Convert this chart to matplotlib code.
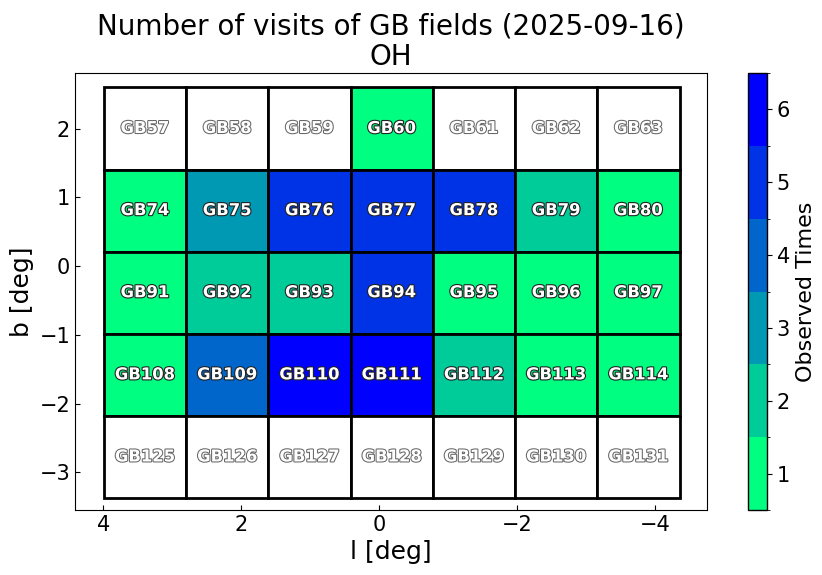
import matplotlib
matplotlib.use("Agg")
import matplotlib.pyplot as plt
import matplotlib.patheffects as pe
from matplotlib.patches import Rectangle
from matplotlib.colors import BoundaryNorm, ListedColormap
import numpy as np

# Field grid: rows top to bottom
field_ids = [
    [57, 58, 59, 60, 61, 62, 63],
    [74, 75, 76, 77, 78, 79, 80],
    [91, 92, 93, 94, 95, 96, 97],
    [108, 109, 110, 111, 112, 113, 114],
    [125, 126, 127, 128, 129, 130, 131],
]
visits = [
    [0, 0, 0, 1, 0, 0, 0],
    [1, 3, 5, 5, 5, 2, 1],
    [1, 2, 2, 5, 1, 1, 1],
    [1, 4, 6, 6, 2, 1, 1],
    [0, 0, 0, 0, 0, 0, 0],
]
l_centers = [3.394, 2.201, 1.008, -0.185, -1.378, -2.571, -3.764]
b_centers = [2.0025, 0.8075, -0.3875, -1.5825, -2.7775]
cell_w = 1.193
cell_h = 1.195

fig = plt.figure(figsize=(8.22, 5.75), dpi=100)
ax = fig.add_axes([0.0912, 0.113, 0.769, 0.760])
cax = fig.add_axes([0.910, 0.113, 0.023, 0.760])

base = plt.get_cmap("winter_r")
cmap = ListedColormap([base(x) for x in np.linspace(0, 1, 6)])
bounds = np.arange(0.5, 7.0, 1.0)
norm = BoundaryNorm(bounds, cmap.N)

for r, b in enumerate(b_centers):
    for c, l in enumerate(l_centers):
        v = visits[r][c]
        face = "white" if v == 0 else cmap(norm(v))
        ax.add_patch(Rectangle((l - cell_w / 2, b - cell_h / 2), cell_w, cell_h,
                               facecolor=face, edgecolor="black", linewidth=2, zorder=2))
        stroke = "#222222" if v > 0 else "#666666"
        ax.text(l, b, f"GB{field_ids[r][c]}", ha="center", va="center",
                fontsize=11.8, fontweight="bold", color="white", zorder=3,
                path_effects=[pe.withStroke(linewidth=1.6 if v > 0 else 1.5, foreground=stroke)])

ax.set_xlim(4.41, -4.76)
ax.set_ylim(-3.55, 2.81)
ax.set_xticks([4, 2, 0, -2, -4])
ax.set_xticklabels(["4", "2", "0", "\u22122", "\u22124"])
ax.set_yticks([2, 1, 0, -1, -2, -3])
ax.tick_params(direction="in", labelsize=15)
ax.set_xlabel("l [deg]", fontsize=18)
ax.set_ylabel("b [deg]", fontsize=18)
ax.set_title("Number of visits of GB fields (2025-09-16)\nOH", fontsize=20, linespacing=1.1)

sm = plt.cm.ScalarMappable(cmap=cmap, norm=norm)
cb = fig.colorbar(sm, cax=cax, ticks=[1, 2, 3, 4, 5, 6])
cb.ax.tick_params(labelsize=15)
cb.set_label("Observed Times", fontsize=16)
cb.outline.set_linewidth(1)

fig.savefig("out.png", dpi=100)
